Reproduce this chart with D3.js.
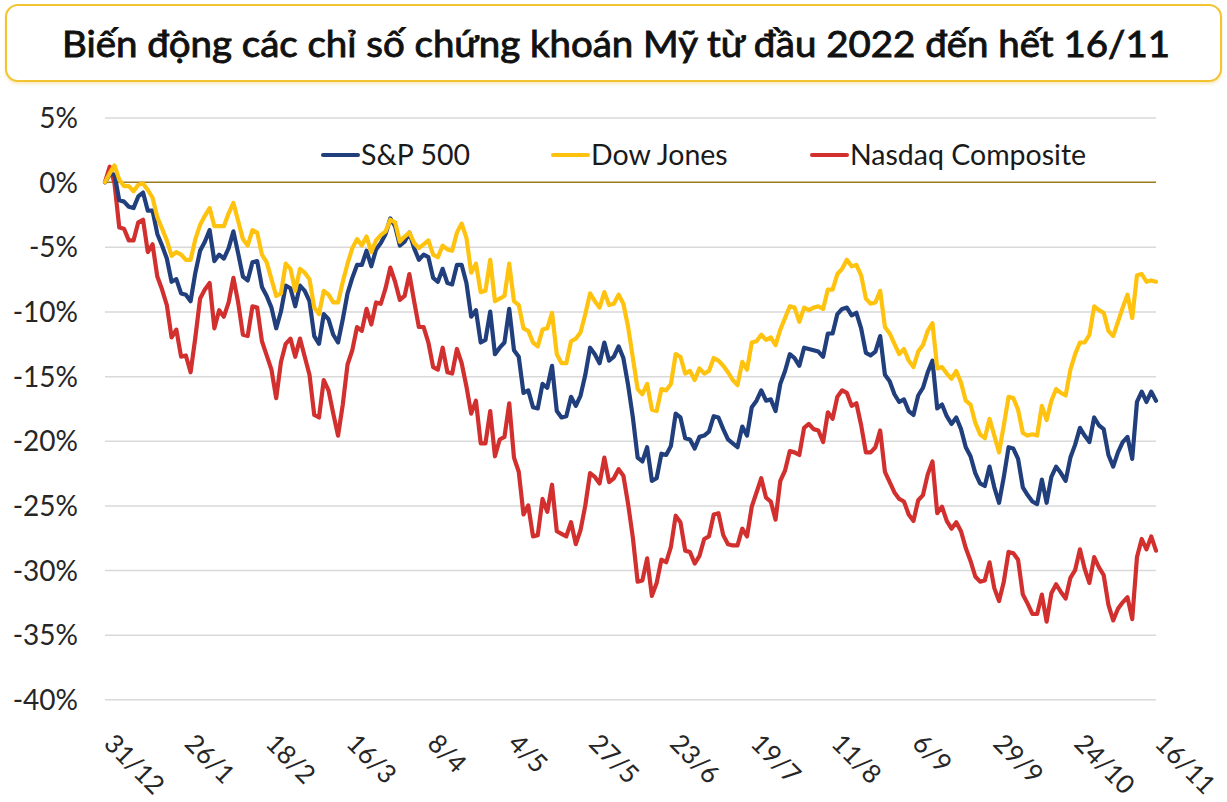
<!DOCTYPE html>
<html>
<head>
<meta charset="utf-8">
<script src="https://cdn.jsdelivr.net/npm/d3@7"></script>
<style>
  html, body { margin: 0; padding: 0; background: #ffffff; }
  svg { display: block; }
  text { font-family: Lato, "Open Sans", sans-serif; }
</style>
</head>
<body>
<svg id="chart" width="1227" height="802"></svg>
<script>
const title = "Biến động các chỉ số chứng khoán Mỹ từ đầu 2022 đến hết 16/11";

const dates = ["31/12",
"3/1","4/1","5/1","6/1","7/1","10/1","11/1","12/1","13/1","14/1","18/1","19/1","20/1","21/1","24/1","25/1","26/1","27/1","28/1","31/1",
"1/2","2/2","3/2","4/2","7/2","8/2","9/2","10/2","11/2","14/2","15/2","16/2","17/2","18/2","22/2","23/2","24/2","25/2","28/2",
"1/3","2/3","3/3","4/3","7/3","8/3","9/3","10/3","11/3","14/3","15/3","16/3","17/3","18/3","21/3","22/3","23/3","24/3","25/3","28/3","29/3","30/3","31/3",
"1/4","4/4","5/4","6/4","7/4","8/4","11/4","12/4","13/4","14/4","18/4","19/4","20/4","21/4","22/4","25/4","26/4","27/4","28/4","29/4",
"2/5","3/5","4/5","5/5","6/5","9/5","10/5","11/5","12/5","13/5","16/5","17/5","18/5","19/5","20/5","23/5","24/5","25/5","26/5","27/5","31/5",
"1/6","2/6","3/6","6/6","7/6","8/6","9/6","10/6","13/6","14/6","15/6","16/6","17/6","21/6","22/6","23/6","24/6","27/6","28/6","29/6","30/6",
"1/7","5/7","6/7","7/7","8/7","11/7","12/7","13/7","14/7","15/7","18/7","19/7","20/7","21/7","22/7","25/7","26/7","27/7","28/7","29/7",
"1/8","2/8","3/8","4/8","5/8","8/8","9/8","10/8","11/8","12/8","15/8","16/8","17/8","18/8","19/8","22/8","23/8","24/8","25/8","26/8","29/8","30/8","31/8",
"1/9","2/9","6/9","7/9","8/9","9/9","12/9","13/9","14/9","15/9","16/9","19/9","20/9","21/9","22/9","23/9","26/9","27/9","28/9","29/9","30/9",
"3/10","4/10","5/10","6/10","7/10","10/10","11/10","12/10","13/10","14/10","17/10","18/10","19/10","20/10","21/10","24/10","25/10","26/10","27/10","28/10","31/10",
"1/11","2/11","3/11","4/11","7/11","8/11","9/11","10/11","11/11","14/11","15/11","16/11"];

const tickLabels = ["31/12","26/1","18/2","16/3","8/4","4/5","27/5","23/6","19/7","11/8","6/9","29/9","24/10","16/11"];
const yTicks = [5, 0, -5, -10, -15, -20, -25, -30, -35, -40];

// % change since 31/12/2021
const sp500 = [0,
0.6,0.6,-1.4,-1.5,-1.9,-2.0,-1.1,-0.8,-2.2,-2.2,-4.0,-4.9,-5.9,-7.7,-7.5,-8.6,-8.7,-9.2,-7.0,-5.3,
-4.6,-3.7,-6.1,-5.6,-5.9,-5.1,-3.8,-5.5,-7.3,-7.6,-6.2,-6.1,-8.1,-8.8,-9.7,-11.3,-10.0,-8.0,-8.2,
-9.6,-8.0,-8.4,-9.2,-11.9,-12.5,-10.2,-10.6,-11.8,-12.4,-10.6,-8.6,-7.4,-6.4,-6.4,-5.3,-6.5,-5.2,-4.7,-4.0,-2.8,-3.4,-4.9,
-4.6,-3.9,-5.1,-6.0,-5.6,-5.8,-7.4,-7.7,-6.7,-7.8,-7.9,-6.4,-6.4,-7.8,-10.4,-9.9,-12.4,-12.2,-10.0,-13.3,
-12.8,-12.4,-9.8,-13.0,-13.5,-16.3,-16.1,-17.4,-17.5,-15.6,-15.9,-14.2,-17.7,-18.2,-18.1,-16.6,-17.3,-16.5,-14.9,-12.8,-13.3,
-14.0,-12.4,-13.8,-13.5,-12.7,-13.6,-15.7,-18.2,-21.3,-21.6,-20.5,-23.1,-22.9,-21.0,-21.1,-20.4,-17.9,-18.2,-19.8,-19.9,-20.6,
-19.7,-19.6,-19.3,-18.1,-18.2,-19.1,-19.9,-20.2,-20.5,-18.9,-19.6,-17.4,-16.9,-16.1,-16.9,-16.8,-17.7,-15.6,-14.6,-13.3,
-13.6,-14.2,-12.8,-12.9,-13.0,-13.1,-13.5,-11.7,-11.7,-10.2,-9.8,-9.7,-10.3,-10.1,-11.3,-13.2,-13.4,-13.1,-11.9,-14.9,-15.4,-16.4,-17.0,
-16.8,-17.7,-18.0,-16.5,-15.9,-14.7,-13.8,-17.5,-17.2,-18.1,-18.7,-18.2,-19.1,-20.5,-21.2,-22.5,-23.3,-23.5,-22.0,-23.6,-24.8,
-22.8,-20.5,-20.6,-21.4,-23.6,-24.2,-24.7,-24.9,-23.0,-24.8,-22.8,-22.0,-22.5,-23.1,-21.3,-20.3,-19.0,-19.6,-20.1,-18.2,-18.8,
-19.1,-21.1,-22.0,-20.9,-20.1,-19.7,-21.4,-17.0,-16.2,-17.0,-16.2,-16.9];

const dowJones = [0,
0.7,1.3,0.2,-0.3,-0.3,-0.7,-0.2,-0.1,-0.6,-1.2,-2.7,-3.6,-4.5,-5.7,-5.4,-5.6,-6.0,-6.0,-4.4,-3.3,
-2.6,-2.0,-3.4,-3.4,-3.4,-2.4,-1.6,-3.0,-4.4,-4.9,-3.7,-3.9,-5.6,-6.2,-7.5,-8.8,-8.6,-6.3,-6.7,
-8.4,-6.7,-7.0,-7.5,-9.7,-10.2,-8.4,-8.7,-9.3,-9.3,-7.7,-6.3,-5.1,-4.4,-4.9,-4.2,-5.4,-4.5,-4.1,-3.8,-2.9,-3.1,-4.6,
-4.2,-3.9,-4.7,-5.1,-4.8,-4.5,-5.6,-5.8,-4.9,-5.2,-5.3,-3.9,-3.2,-4.3,-7.0,-6.3,-8.5,-8.4,-6.0,-9.2,
-9.0,-8.8,-6.3,-9.2,-9.5,-11.3,-11.5,-12.4,-12.7,-11.4,-11.3,-10.1,-13.3,-14.0,-14.0,-12.3,-12.1,-11.6,-10.2,-8.6,-9.2,
-9.7,-8.5,-9.5,-9.4,-8.7,-9.4,-11.2,-13.6,-16.0,-16.4,-15.6,-17.6,-17.7,-16.0,-16.1,-15.6,-13.3,-13.5,-14.8,-14.6,-15.3,
-14.4,-14.8,-14.6,-13.6,-13.8,-14.2,-14.7,-15.3,-15.7,-13.9,-14.5,-12.4,-12.3,-11.8,-12.2,-12.0,-12.6,-11.4,-10.5,-9.6,
-9.7,-10.8,-9.7,-9.9,-9.7,-9.6,-9.8,-8.3,-8.3,-7.1,-6.7,-6.0,-6.5,-6.4,-7.2,-9.0,-9.4,-9.3,-8.4,-11.2,-11.7,-12.5,-13.3,
-12.9,-13.8,-14.3,-13.1,-12.6,-11.5,-10.9,-14.4,-14.3,-14.8,-15.2,-14.6,-15.5,-16.9,-17.2,-18.6,-19.5,-19.8,-18.3,-19.6,-20.9,
-18.8,-16.6,-16.7,-17.6,-19.4,-19.6,-19.5,-19.6,-17.3,-18.4,-16.9,-16.0,-16.3,-16.5,-14.5,-13.3,-12.4,-12.4,-11.8,-9.6,-9.9,
-10.1,-11.5,-11.9,-10.8,-9.7,-8.7,-10.5,-7.2,-7.1,-7.7,-7.6,-7.7];

const nasdaq = [0,
1.2,-0.1,-3.5,-3.6,-4.5,-4.5,-3.1,-2.9,-5.4,-4.8,-7.3,-8.3,-9.5,-12.0,-11.4,-13.5,-13.4,-14.7,-12.0,-9.0,
-8.3,-7.8,-11.3,-9.9,-10.4,-9.3,-7.4,-9.3,-11.8,-11.9,-9.6,-9.7,-12.3,-13.4,-14.5,-16.7,-13.9,-12.5,-12.1,
-13.5,-12.1,-13.5,-14.9,-18.0,-18.2,-15.3,-16.1,-17.9,-19.6,-17.2,-14.1,-13.0,-11.2,-11.5,-9.8,-11.0,-9.3,-9.4,-8.2,-6.6,-7.7,-9.1,
-8.8,-7.1,-9.2,-11.2,-11.2,-12.4,-14.3,-14.5,-12.8,-14.7,-14.8,-12.9,-14.0,-15.8,-17.9,-16.9,-20.2,-20.2,-17.7,-21.2,
-19.9,-19.7,-17.1,-21.3,-22.4,-25.7,-25.0,-27.4,-27.3,-24.5,-25.5,-23.4,-27.0,-27.2,-27.4,-26.3,-28.0,-26.9,-25.0,-22.5,-22.8,
-23.3,-21.3,-23.2,-22.9,-22.2,-22.7,-24.9,-27.5,-30.9,-30.8,-29.1,-32.0,-31.0,-29.2,-29.4,-28.2,-25.8,-26.3,-28.5,-28.6,-29.5,
-28.9,-27.6,-27.4,-25.7,-25.6,-27.3,-28.0,-28.1,-28.1,-26.8,-27.4,-25.1,-24.0,-22.9,-24.4,-24.7,-26.1,-23.1,-22.3,-20.8,
-20.9,-21.1,-19.0,-18.7,-19.1,-19.2,-20.1,-17.8,-18.3,-16.6,-16.1,-16.3,-17.3,-17.1,-18.8,-20.9,-20.9,-20.5,-19.2,-22.4,-23.2,-24.0,-24.5,
-24.7,-25.7,-26.2,-24.6,-24.2,-22.6,-21.6,-25.6,-25.1,-26.2,-26.8,-26.3,-27.0,-28.3,-29.3,-30.5,-30.9,-30.8,-29.4,-31.4,-32.4,
-30.9,-28.6,-28.7,-29.2,-31.9,-32.6,-33.4,-33.4,-31.9,-34.0,-31.8,-31.1,-31.7,-32.2,-30.6,-30.0,-28.4,-29.9,-31.0,-29.0,-29.8,
-30.4,-32.7,-33.9,-33.0,-32.5,-32.1,-33.8,-29.0,-27.6,-28.4,-27.4,-28.5];

const seriesNames = ["S&P 500", "Dow Jones", "Nasdaq Composite"];
const seriesColors = ["#203f7c", "#ffc20e", "#d2302f"];
const seriesValues = [sp500, dowJones, nasdaq];

const svg = d3.select("#chart");
const W = 1227, H = 802;
svg.append("rect").attr("width", W).attr("height", H).attr("fill", "#ffffff");

// Title box
const defs = svg.append("defs");
const f = defs.append("filter").attr("id", "shadow").attr("x", "-5%").attr("y", "-20%").attr("width", "110%").attr("height", "150%");
f.append("feDropShadow").attr("dx", 0).attr("dy", 2).attr("stdDeviation", 1.5).attr("flood-color", "#e8c24a").attr("flood-opacity", 0.35);

svg.append("rect")
  .attr("x", 6).attr("y", 5).attr("width", 1215).attr("height", 76).attr("rx", 12)
  .attr("fill", "#ffffff").attr("stroke", "#f4c331").attr("stroke-width", 2)
  .attr("filter", "url(#shadow)");

svg.append("text")
  .attr("x", 616).attr("y", 57)
  .attr("text-anchor", "middle")
  .attr("font-size", 36).attr("font-weight", 400).attr("fill", "#111111")
  .attr("stroke", "#111111").attr("stroke-width", 0.9)
  .attr("textLength", 1108).attr("lengthAdjust", "spacingAndGlyphs")
  .text(title);

// Scales
const x = d3.scalePoint().domain(dates).range([105, 1156]);
const y = d3.scaleLinear().domain([-40, 5]).range([699.3, 117.6]);

// Gridlines
const grid = svg.append("g").attr("transform", "translate(105,0)")
  .call(d3.axisLeft(y).tickValues(yTicks.filter(v => v !== 0)).tickSize(-1051).tickFormat(""));
grid.select(".domain").remove();
grid.selectAll(".tick line").attr("stroke", "#d9d9d9").attr("stroke-width", 1.5);

// Y axis labels
const yAxis = svg.append("g").attr("transform", "translate(78,0)")
  .call(d3.axisLeft(y).tickValues(yTicks).tickSize(0).tickPadding(0).tickFormat(d => d + "%"));
yAxis.select(".domain").remove();
yAxis.selectAll("text")
  .attr("font-family", "Lato, sans-serif").attr("font-size", 28).attr("fill", "#262626")
  .attr("dy", "0.36em");

// Zero axis line
svg.append("line")
  .attr("x1", 105).attr("x2", 1156).attr("y1", y(0)).attr("y2", y(0))
  .attr("stroke", "#9c7b1f").attr("stroke-width", 1.6);

// X axis labels
const xAxis = svg.append("g")
  .call(d3.axisBottom(x).tickValues(tickLabels).tickSize(0).tickPadding(0));
xAxis.select(".domain").remove();
xAxis.selectAll(".tick text")
  .attr("font-family", "Lato, sans-serif").attr("font-size", 26).attr("fill", "#262626")
  .attr("text-anchor", "start").attr("dy", null).attr("y", null)
  .attr("transform", "translate(-3,745) rotate(45)");

// Lines (draw order: Nasdaq, S&P, Dow on top)
const line = d3.line().x((d, i) => x(dates[i])).y(d => y(d)).curve(d3.curveLinear);
[2, 0, 1].forEach(k => {
  svg.append("path")
    .datum(seriesValues[k])
    .attr("d", line)
    .attr("fill", "none")
    .attr("stroke", seriesColors[k])
    .attr("stroke-width", 4.2)
    .attr("stroke-linejoin", "round")
    .attr("stroke-linecap", "round");
});

// Legend
const legendX = [323, 553, 812];
const lg = svg.append("g");
seriesNames.forEach((name, k) => {
  lg.append("line")
    .attr("x1", legendX[k]).attr("x2", legendX[k] + 35)
    .attr("y1", 155).attr("y2", 155)
    .attr("stroke", seriesColors[k]).attr("stroke-width", 4).attr("stroke-linecap", "round");
  lg.append("text")
    .attr("x", legendX[k] + 38).attr("y", 155).attr("dy", "0.36em")
    .attr("font-size", 28.5).attr("fill", "#1a1a1a")
    .text(name);
});
</script>
</body>
</html>
